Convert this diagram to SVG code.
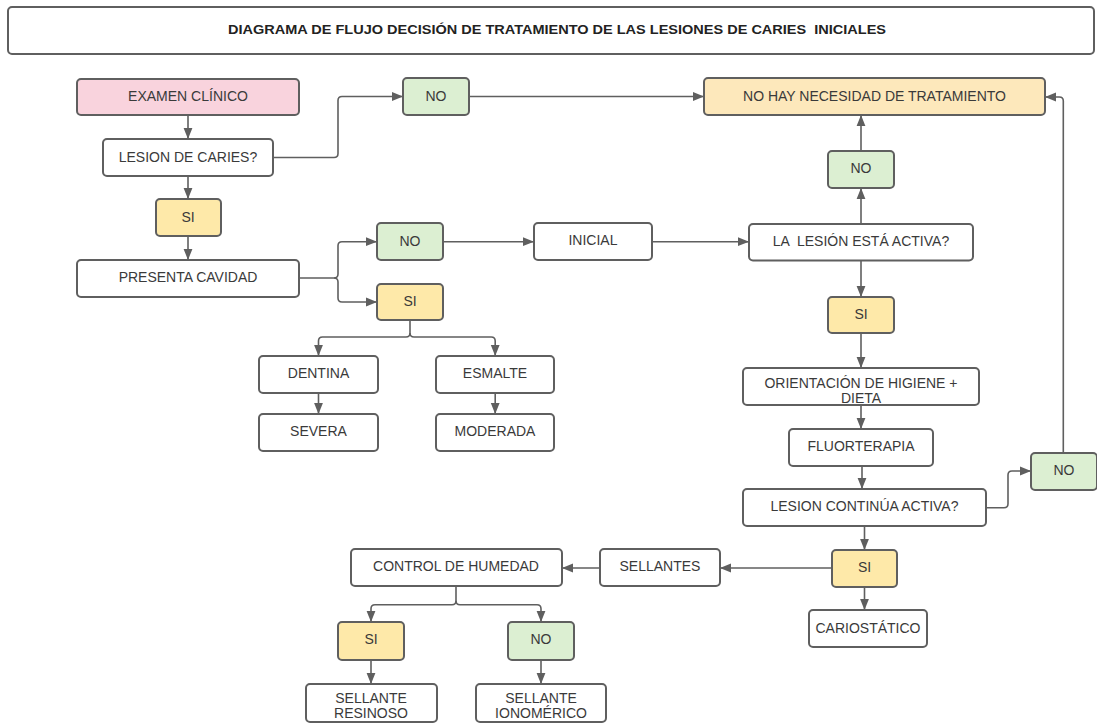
<svg xmlns="http://www.w3.org/2000/svg" width="1097" height="725" viewBox="0 0 1097 725">
<style>
.b{stroke:#5f5f5f;stroke-width:2;rx:4;ry:4}
.w{fill:#ffffff}.p{fill:#f9d3dd}.y{fill:#fee9a9}.g{fill:#dcefd2}.o{fill:#fde8bb}
.t{font-family:"Liberation Sans",Arial,sans-serif;font-size:14px;fill:#3a3a3a;text-anchor:middle;dominant-baseline:central;white-space:pre}
.h{font-family:"Liberation Sans",Arial,sans-serif;font-size:13px;font-weight:bold;fill:#222;text-anchor:middle;dominant-baseline:central;white-space:pre}
.c{fill:none;stroke:#5f5f5f;stroke-width:1.6}
.a{marker-end:url(#ah)}
</style>
<defs>
<marker id="ah" viewBox="0 0 10 10" refX="10" refY="5" markerWidth="11" markerHeight="11" markerUnits="userSpaceOnUse" orient="auto">
<path d="M0,1 L10,5 L0,9 Z" fill="#5f5f5f"/>
</marker>
</defs>
<rect width="1097" height="725" fill="#ffffff"/>
<g id="title"><rect class="b w" x="8" y="7" width="1086" height="47"/><text class="h" x="557" y="29" textLength="658" lengthAdjust="spacingAndGlyphs">DIAGRAMA DE FLUJO DECISIÓN DE TRATAMIENTO DE LAS LESIONES DE CARIES  INICIALES</text></g>
<g id="connectors">
<path class="c a" d="M188,115 V139"/>
<path class="c a" d="M188,176 V199"/>
<path class="c a" d="M188,236 V260"/>
<path class="c a" d="M273,157.5 H334 Q338,157.5 338,153.5 V100.5 Q338,96.5 342,96.5 H403"/>
<path class="c a" d="M469,96.5 H704"/>
<path class="c a" d="M299,278 H334 Q338,278 338,274 V245.7 Q338,241.7 342,241.7 H377"/>
<path class="c a" d="M334,278 Q338,278 338,282 V298 Q338,302 342,302 H377"/>
<path class="c a" d="M443,241.7 H534"/>
<path class="c a" d="M652,241.7 H749"/>
<path class="c a" d="M410,320 V333 Q410,337 406,337 H322.5 Q318.5,337 318.5,341 V356"/>
<path class="c a" d="M410,333 Q410,337 414,337 H491.2 Q495.2,337 495.2,341 V356"/>
<path class="c a" d="M318.5,393 V414"/>
<path class="c a" d="M495.2,393 V414"/>
<path class="c a" d="M861,224 V188"/>
<path class="c a" d="M861,151 V115"/>
<path class="c a" d="M861,260.5 V297"/>
<path class="c a" d="M861,333 V368"/>
<path class="c a" d="M861,405 V429"/>
<path class="c a" d="M862,466 V489"/>
<path class="c a" d="M864.5,526 V550"/>
<path class="c a" d="M864.5,587 V610"/>
<path class="c a" d="M832,568 H720"/>
<path class="c a" d="M600,568 H562"/>
<path class="c a" d="M456,586 V600.7 Q456,604.7 452,604.7 H375 Q371,604.7 371,608.7 V622"/>
<path class="c a" d="M456,600.7 Q456,604.7 460,604.7 H537 Q541,604.7 541,608.7 V622"/>
<path class="c a" d="M371,660 V684"/>
<path class="c a" d="M541,660 V684"/>
<path class="c a" d="M986,507.7 H1004 Q1008,507.7 1008,503.7 V475 Q1008,471 1012,471 H1031"/>
<path class="c a" d="M1063.3,453 V101 Q1063.3,97 1059.3,97 H1045"/>
</g>
<g id="n_examen"><rect class="b p" x="77" y="79" width="222" height="36"/><text class="t" x="188" y="96">EXAMEN CLÍNICO</text></g>
<g id="n_lesion"><rect class="b w" x="103" y="139" width="170" height="37"/><text class="t" x="188" y="157">LESION DE CARIES?</text></g>
<g id="n_si1"><rect class="b y" x="156" y="199" width="65" height="37"/><text class="t" x="188" y="217">SI</text></g>
<g id="n_presenta"><rect class="b w" x="77" y="260" width="222" height="37"/><text class="t" x="188" y="277">PRESENTA CAVIDAD</text></g>
<g id="n_no1"><rect class="b g" x="403" y="78" width="66" height="37"/><text class="t" x="436" y="96">NO</text></g>
<g id="n_nohay"><rect class="b o" x="704" y="78" width="341" height="37"/><text class="t" x="874.5" y="96">NO HAY NECESIDAD DE TRATAMIENTO</text></g>
<g id="n_no2"><rect class="b g" x="377" y="223" width="66" height="37"/><text class="t" x="410" y="241">NO</text></g>
<g id="n_si2"><rect class="b y" x="377" y="284" width="66" height="36"/><text class="t" x="410" y="301">SI</text></g>
<g id="n_inicial"><rect class="b w" x="534" y="223" width="118" height="37"/><text class="t" x="593" y="240">INICIAL</text></g>
<g id="n_dentina"><rect class="b w" x="259" y="356" width="119" height="37"/><text class="t" x="318.5" y="373">DENTINA</text></g>
<g id="n_esmalte"><rect class="b w" x="436" y="356" width="118" height="37"/><text class="t" x="495" y="373">ESMALTE</text></g>
<g id="n_severa"><rect class="b w" x="259" y="414" width="119" height="37"/><text class="t" x="318.5" y="431">SEVERA</text></g>
<g id="n_moderada"><rect class="b w" x="436" y="414" width="118" height="37"/><text class="t" x="495" y="431">MODERADA</text></g>
<g id="n_activa"><rect class="b w" x="749" y="224" width="224" height="36.5"/><text class="t" x="861" y="241">LA  LESIÓN ESTÁ ACTIVA?</text></g>
<g id="n_no3"><rect class="b g" x="828" y="151" width="66" height="37"/><text class="t" x="861" y="168">NO</text></g>
<g id="n_si3"><rect class="b y" x="828" y="297" width="66" height="36"/><text class="t" x="861" y="314">SI</text></g>
<g id="n_orient"><rect class="b w" x="743" y="368" width="236" height="37"/><text class="t" x="861" y="383">ORIENTACIÓN DE HIGIENE +</text><text class="t" x="861" y="398">DIETA</text></g>
<g id="n_fluor"><rect class="b w" x="789" y="429" width="144" height="37"/><text class="t" x="861" y="446">FLUORTERAPIA</text></g>
<g id="n_continua"><rect class="b w" x="743" y="489" width="243" height="37"/><text class="t" x="864.5" y="506">LESION CONTINÚA ACTIVA?</text></g>
<g id="n_no4"><rect class="b g" x="1031" y="453" width="66" height="37"/><text class="t" x="1064" y="470">NO</text></g>
<g id="n_si4"><rect class="b y" x="832" y="550" width="65" height="37"/><text class="t" x="864.5" y="567">SI</text></g>
<g id="n_cariost"><rect class="b w" x="809" y="610" width="118" height="37"/><text class="t" x="868" y="628">CARIOSTÁTICO</text></g>
<g id="n_sellantes"><rect class="b w" x="600" y="549" width="120" height="37"/><text class="t" x="660" y="566">SELLANTES</text></g>
<g id="n_control"><rect class="b w" x="351" y="549" width="211" height="37"/><text class="t" x="456" y="566">CONTROL DE HUMEDAD</text></g>
<g id="n_si5"><rect class="b y" x="338" y="622" width="66" height="38"/><text class="t" x="371" y="639">SI</text></g>
<g id="n_no5"><rect class="b g" x="508" y="622" width="66" height="38"/><text class="t" x="541" y="639">NO</text></g>
<g id="n_resinoso"><rect class="b w" x="306" y="684" width="131" height="38"/><text class="t" x="371" y="698">SELLANTE</text><text class="t" x="371" y="713">RESINOSO</text></g>
<g id="n_ionomerico"><rect class="b w" x="476" y="684" width="130" height="38"/><text class="t" x="541" y="698">SELLANTE</text><text class="t" x="541" y="713">IONOMÉRICO</text></g>
</svg>
